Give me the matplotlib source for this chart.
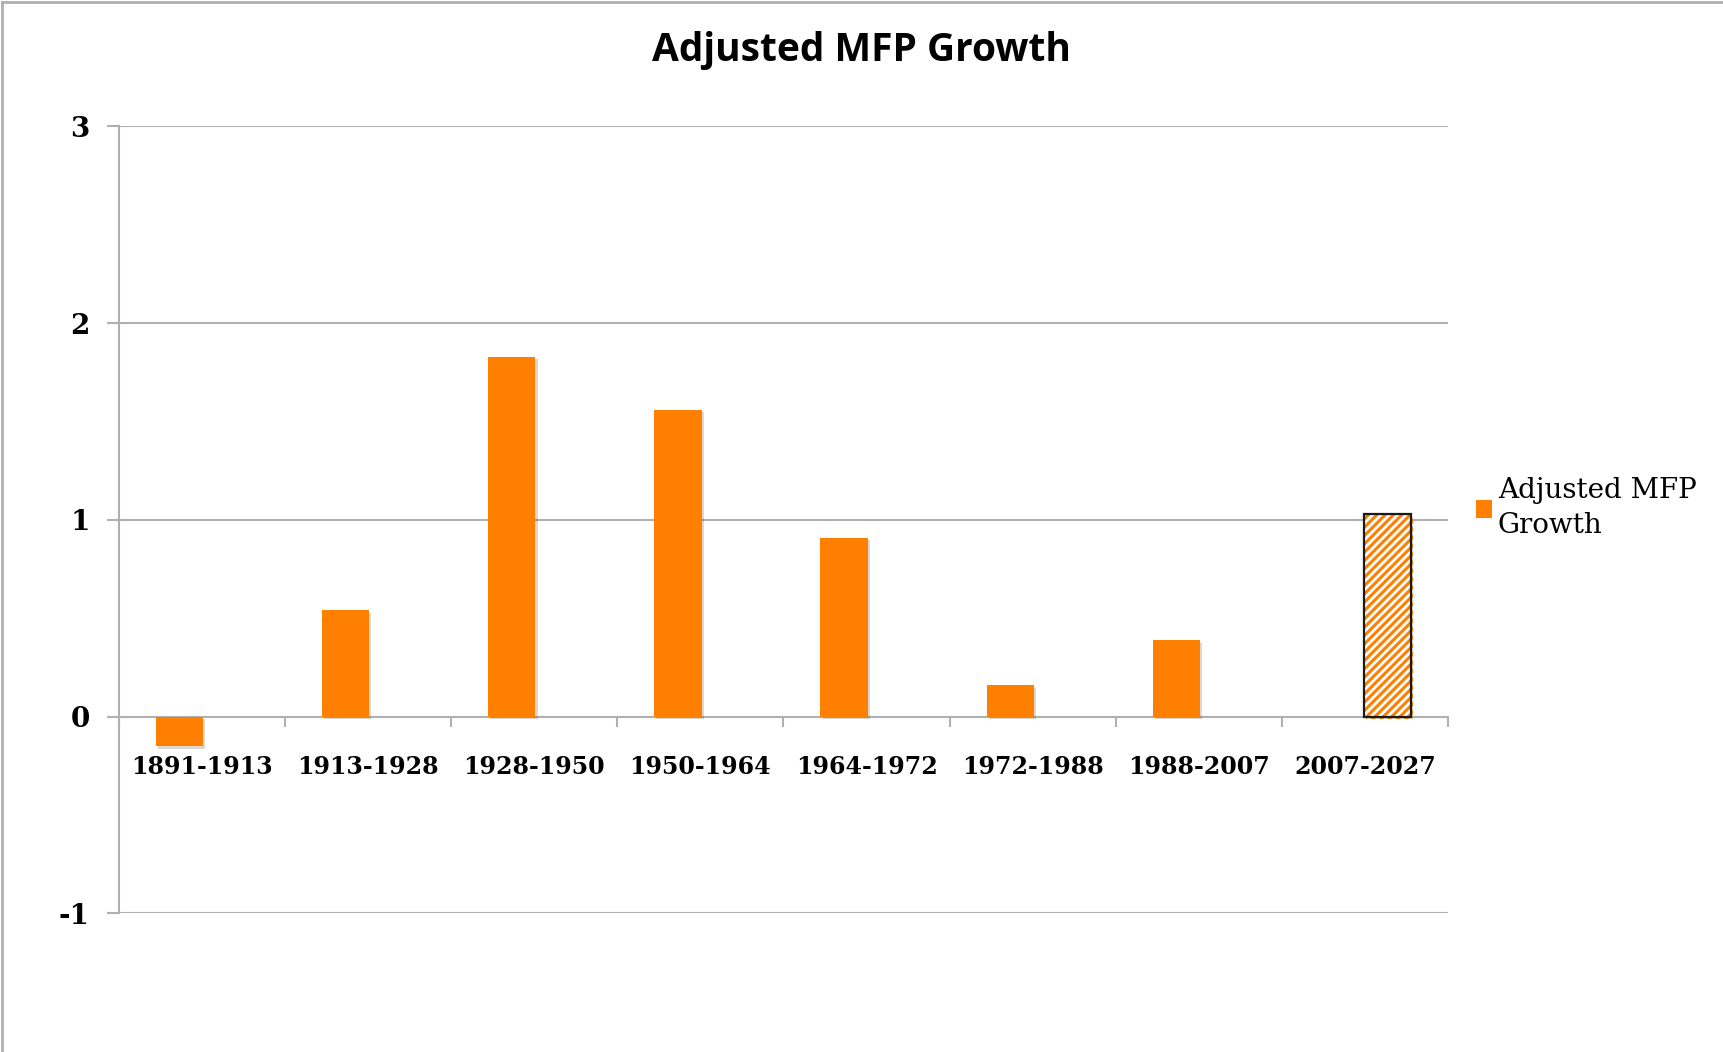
import matplotlib.pyplot as plt
import matplotlib.patheffects as pe
from matplotlib.lines import Line2D
from matplotlib.patches import Patch
import numpy as np

# data
periods = ['1891-1913', '1913-1928', '1928-1950', '1950-1964',
           '1964-1972', '1972-1988', '1988-2007', '2007-2027']
mfp_growth = [-0.15, 0.54, 1.83, 1.56, 0.91, 0.16, 0.39, 1.03]
projected = [False, False, False, False, False, False, False, True]

orange = '#ff7f00'
grey = '#b0b0b0'
serif = 'DejaVu Serif'

plt.rcParams['hatch.linewidth'] = 2.2
plt.rcParams['axes.unicode_minus'] = False

fig = plt.figure(figsize=(17.23, 10.52), dpi=100)
ax = fig.add_axes([0.0689, 0.1319, 0.7716, 0.7479])

x = np.arange(len(periods))
shadow = [pe.SimplePatchShadow(offset=(1.5, -2), alpha=0.18), pe.Normal()]
bw = 0.285
shift = 0.135  # two series clustered per category; only one present each

for i in range(len(periods)):
    if projected[i]:
        ax.bar(x[i] + shift, mfp_growth[i], width=bw, color='white',
               edgecolor=orange, hatch='////', linewidth=0, zorder=3,
               path_effects=shadow)
        ax.bar(x[i] + shift, mfp_growth[i], width=bw, color='none',
               edgecolor='#1a1a1a', linewidth=1.6, zorder=4)
    else:
        ax.bar(x[i] - shift, mfp_growth[i], width=bw, color=orange,
               linewidth=0, zorder=3, path_effects=shadow)

ax.set_xlim(-0.5, len(periods) - 0.5)
ax.set_ylim(-1, 3)

# horizontal gridlines with short ticks sticking out left
for yv in [-1, 1, 2, 3]:
    ax.axhline(yv, color=grey, lw=1.5, zorder=1)
ax.set_yticks([-1, 0, 1, 2, 3])
ax.tick_params(axis='y', length=9, width=1.5, color=grey, pad=12)
for lbl in ax.get_yticklabels():
    lbl.set_fontfamily(serif)
    lbl.set_fontweight('bold')
    lbl.set_fontsize(20)

# x axis at zero, ticks on category boundaries, labels at centres
ax.spines['bottom'].set_position(('data', 0))
ax.spines['bottom'].set_color(grey)
ax.spines['bottom'].set_linewidth(1.5)
ax.spines['left'].set_color(grey)
ax.spines['left'].set_linewidth(1.5)
ax.spines['top'].set_visible(False)
ax.spines['right'].set_visible(False)
ax.set_xticks(np.arange(len(periods) + 1) - 0.5)
ax.set_xticklabels([])
ax.tick_params(axis='x', which='major', length=7, width=1.5, color=grey)
ax.set_xticks(x, minor=True)
ax.set_xticklabels(periods, minor=True, fontfamily=serif,
                   fontweight='bold', fontsize=17)
ax.tick_params(axis='x', which='minor', length=0, pad=28)

fig.text(0.5, 0.952, 'Adjusted MFP Growth', ha='center', va='center',
         fontfamily='Open Sans', fontweight='bold', fontsize=28)

handle = Patch(facecolor=orange, edgecolor='none')
leg = fig.legend([handle], ['Adjusted MFP\nGrowth'], loc='upper left',
                 bbox_to_anchor=(0.842, 0.570), frameon=False,
                 prop={'family': serif, 'size': 20},
                 handlelength=0.6, handleheight=0.6, handletextpad=0.2)
for t in leg.get_texts():
    t.set_linespacing(1.35)

# thin grey frame on the top and left edge of the picture
fig.add_artist(Line2D([0.001, 0.001], [0, 0.998], color=grey, lw=2,
                      transform=fig.transFigure))
fig.add_artist(Line2D([0.001, 1], [0.998, 0.998], color=grey, lw=2,
                      transform=fig.transFigure))

fig.savefig('out.png', dpi=100)
